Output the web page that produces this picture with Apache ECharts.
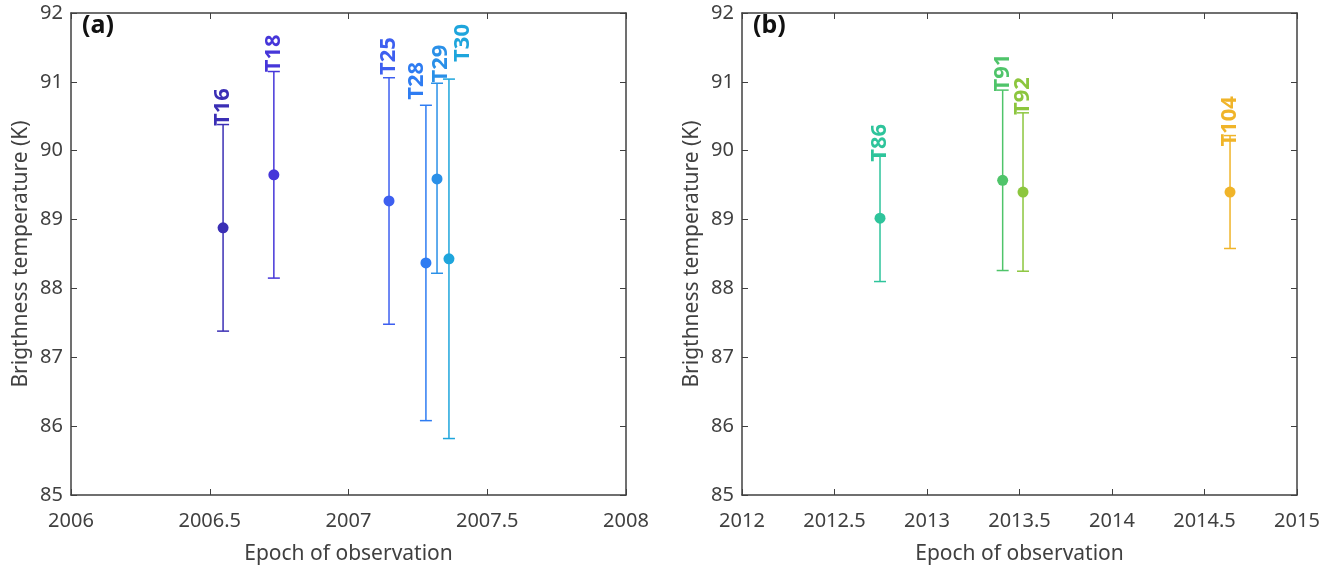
<!DOCTYPE html>
<html>
<head>
<meta charset="utf-8">
<script src="https://cdn.jsdelivr.net/npm/echarts@6/dist/echarts.min.js"></script>
<style>
  html, body { margin: 0; padding: 0; background: #fff; }
  #chart { width: 1343px; height: 570px; }
</style>
</head>
<body>
<div id="chart"></div>
<script>
// panel (a)
var epochA = [2006.548, 2006.731, 2007.146, 2007.279, 2007.319, 2007.362];
var tempA = [88.88, 89.65, 89.27, 88.37, 89.59, 88.43];
var lowA = [87.38, 88.15, 87.48, 86.08, 88.22, 85.82];
var highA = [90.38, 91.15, 91.06, 90.66, 90.98, 91.04];
var labelsA = ['T16', 'T18', 'T25', 'T28', 'T29', 'T30'];
// where each name is anchored (epoch, temperature)
var labelEpochA = [2006.548, 2006.731, 2007.146, 2007.245, 2007.332, 2007.412];
var labelAtA = [90.36, 91.14, 91.10, 90.74, 90.99, 91.29];
var colorsA = ['#3b2fb5', '#4636d9', '#3d5ff0', '#2e7cf2', '#2a90e8', '#1ea5dc'];

// panel (b)
var epochB = [2012.746, 2013.409, 2013.519, 2014.638];
var tempB = [89.02, 89.57, 89.40, 89.40];
var lowB = [88.10, 88.26, 88.25, 88.58];
var highB = [89.95, 90.88, 90.55, 90.22];
var labelsB = ['T86', 'T91', 'T92', 'T104'];
var labelEpochB = [2012.746, 2013.409, 2013.519, 2014.638];
var labelAtB = [89.84, 90.86, 90.52, 90.06];
var colorsB = ['#2ec49b', '#4fc46a', '#8cc63e', '#f0b429'];

var tempTicks = [85, 86, 87, 88, 89, 90, 91, 92];

var dom = document.getElementById('chart');
var myChart = echarts.init(dom);

var axisColor = '#404040';
var font = 'Noto Sans';

function buildData(ep, t, lo, hi, lep, lat) {
    var out = [];
    for (var i = 0; i < ep.length; i++) {
        out.push([ep[i], t[i], lo[i], hi[i], lep[i], lat[i], i]);
    }
    return out;
}

function makeRender(labels, colors) {
    return function (params, api) {
        var x = api.value(0);
        var i = api.value(6);
        var pC = api.coord([x, api.value(1)]);
        var pLo = api.coord([x, api.value(2)]);
        var pHi = api.coord([x, api.value(3)]);
        var pT = api.coord([api.value(4), api.value(5)]);
        var c = colors[i];
        var cap = 6;
        var ls = { stroke: c, lineWidth: 1.5 };
        return {
            type: 'group',
            children: [
                { type: 'line', shape: { x1: pC[0], y1: pLo[1], x2: pC[0], y2: pHi[1] }, style: ls },
                { type: 'line', shape: { x1: pC[0] - cap, y1: pLo[1], x2: pC[0] + cap, y2: pLo[1] }, style: ls },
                { type: 'line', shape: { x1: pC[0] - cap, y1: pHi[1], x2: pC[0] + cap, y2: pHi[1] }, style: ls },
                { type: 'circle', shape: { cx: pC[0], cy: pC[1], r: 5.5 }, style: { fill: c } },
                {
                    type: 'text', x: pT[0], y: pT[1], rotation: Math.PI / 2,
                    style: {
                        text: labels[i], fill: c, align: 'left', verticalAlign: 'middle',
                        font: 'bold 22px "Noto Sans"'
                    }
                }
            ]
        };
    };
}

function plain(v) {
    return String(v);
}

function xAxisBottom(grid, min, max) {
    return {
        type: 'value', gridIndex: grid, position: 'bottom', min: min, max: max, interval: 0.5,
        name: 'Epoch of observation', nameLocation: 'middle', nameGap: 49,
        nameTextStyle: { color: axisColor, fontSize: 21, fontFamily: font },
        axisLine: { show: true, onZero: false, lineStyle: { color: axisColor, width: 1.5 } },
        axisTick: { show: true, inside: true, length: 6, lineStyle: { color: axisColor } },
        axisLabel: { color: axisColor, fontSize: 20, fontFamily: font, margin: 16, formatter: plain },
        splitLine: { show: false }
    };
}

function xAxisTop(grid, min, max) {
    return {
        type: 'value', gridIndex: grid, position: 'top', min: min, max: max, interval: 0.5,
        axisLine: { show: true, onZero: false, lineStyle: { color: axisColor, width: 1.5 } },
        axisTick: { show: true, inside: true, length: 6, lineStyle: { color: axisColor } },
        axisLabel: { show: false },
        splitLine: { show: false }
    };
}

function yAxisLeft(grid) {
    return {
        type: 'value', gridIndex: grid, position: 'left', min: tempTicks[0],
        max: tempTicks[tempTicks.length - 1], interval: 1,
        name: 'Brigthness temperature (K)', nameLocation: 'middle', nameGap: 39,
        nameTextStyle: { color: axisColor, fontSize: 21, fontFamily: font },
        axisLine: { show: true, onZero: false, lineStyle: { color: axisColor, width: 1.5 } },
        axisTick: { show: true, inside: true, length: 6, lineStyle: { color: axisColor } },
        axisLabel: { color: axisColor, fontSize: 20, fontFamily: font, margin: 8, formatter: plain },
        splitLine: { show: false }
    };
}

function yAxisRight(grid) {
    return {
        type: 'value', gridIndex: grid, position: 'right', min: tempTicks[0],
        max: tempTicks[tempTicks.length - 1], interval: 1,
        axisLine: { show: true, onZero: false, lineStyle: { color: axisColor, width: 1.5 } },
        axisTick: { show: true, inside: true, length: 6, lineStyle: { color: axisColor } },
        axisLabel: { show: false },
        splitLine: { show: false }
    };
}

var option = {
    backgroundColor: '#fff',
    animation: false,
    grid: [
        { left: 71, right: 717, top: 13, bottom: 74 },
        { left: 742, right: 46, top: 13, bottom: 74 }
    ],
    xAxis: [
        xAxisBottom(0, 2006, 2008),
        xAxisBottom(1, 2012, 2015),
        xAxisTop(0, 2006, 2008),
        xAxisTop(1, 2012, 2015)
    ],
    yAxis: [
        yAxisLeft(0),
        yAxisLeft(1),
        yAxisRight(0),
        yAxisRight(1)
    ],
    graphic: [
        { type: 'text', left: 82, top: 13, style: { text: '(a)', fill: '#111', font: 'bold 25px "Noto Sans"' } },
        { type: 'text', left: 753, top: 13, style: { text: '(b)', fill: '#111', font: 'bold 25px "Noto Sans"' } }
    ],
    series: [
        {
            type: 'custom', xAxisIndex: 0, yAxisIndex: 0,
            renderItem: makeRender(labelsA, colorsA),
            data: buildData(epochA, tempA, lowA, highA, labelEpochA, labelAtA),
            clip: false
        },
        {
            type: 'custom', xAxisIndex: 1, yAxisIndex: 1,
            renderItem: makeRender(labelsB, colorsB),
            data: buildData(epochB, tempB, lowB, highB, labelEpochB, labelAtB),
            clip: false
        }
    ]
};

if (option && typeof option === 'object') {
    myChart.setOption(option);
}
</script>
</body>
</html>
